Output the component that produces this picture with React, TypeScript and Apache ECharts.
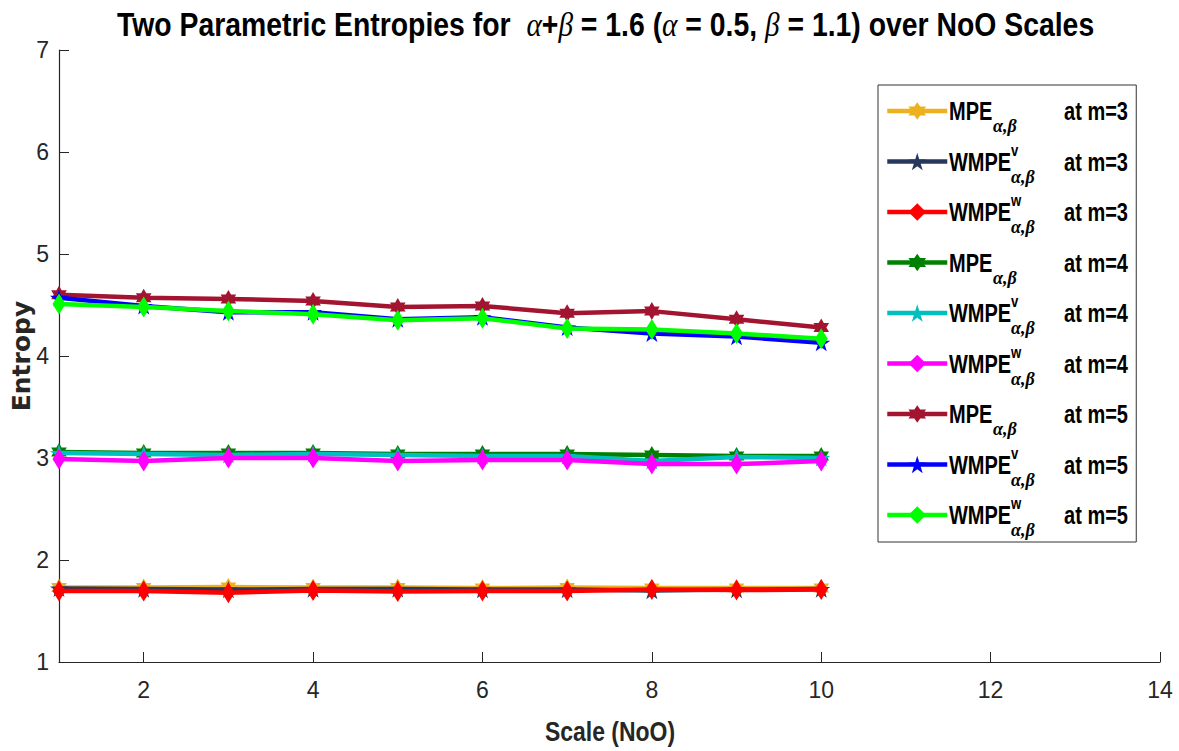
import React, { useEffect, useRef } from "react";
import * as echarts from "echarts";

// ---------- data ----------
const scales = [1, 2, 3, 4, 5, 6, 7, 8, 9, 10];
const xTickValues = [2, 4, 6, 8, 10, 12, 14];

const mpeM3 = [1.73, 1.73, 1.735, 1.73, 1.73, 1.725, 1.73, 1.725, 1.725, 1.725];
const wmpeVM3 = [1.72, 1.715, 1.71, 1.715, 1.715, 1.71, 1.71, 1.7, 1.71, 1.715];
const wmpeWM3 = [1.695, 1.695, 1.68, 1.7, 1.69, 1.695, 1.695, 1.71, 1.705, 1.71];

const mpeM4 = [3.06, 3.05, 3.05, 3.05, 3.04, 3.04, 3.04, 3.03, 3.02, 3.02];
const wmpeVM4 = [3.05, 3.04, 3.03, 3.04, 3.03, 3.02, 3.02, 2.97, 3.01, 3.0];
const wmpeWM4 = [2.99, 2.97, 3.0, 3.0, 2.97, 2.98, 2.98, 2.94, 2.94, 2.97];

const mpeM5 = [4.6, 4.57, 4.56, 4.54, 4.48, 4.49, 4.42, 4.44, 4.36, 4.28];
const wmpeVM5 = [4.57, 4.49, 4.43, 4.43, 4.36, 4.38, 4.28, 4.22, 4.19, 4.13];
const wmpeWM5 = [4.51, 4.48, 4.44, 4.41, 4.35, 4.37, 4.27, 4.26, 4.22, 4.17];

const seriesKeys = [
  "MPE m=3", "WMPEv m=3", "WMPEw m=3",
  "MPE m=4", "WMPEv m=4", "WMPEw m=4",
  "MPE m=5", "WMPEv m=5", "WMPEw m=5",
];
const seriesValues = [mpeM3, wmpeVM3, wmpeWM3, mpeM4, wmpeVM4, wmpeWM4, mpeM5, wmpeVM5, wmpeWM5];
const seriesColors = [
  "#EDB120", "#26395C", "#FF0000",
  "#008000", "#00BFBF", "#FF00FF",
  "#A2142F", "#0000FF", "#00FF00",
];
const seriesKinds = ["MPE", "WMPEv", "WMPEw", "MPE", "WMPEv", "WMPEw", "MPE", "WMPEv", "WMPEw"];
const seriesM = ["3", "3", "3", "4", "4", "4", "5", "5", "5"];

const titleText =
  "{t|Two Parametric Entropies for  }{g|α}{t|+}{g|β}{t| = 1.6 (}{g|α}{t| = 0.5, }{g|β}{t| = 1.1) over NoO Scales}";
const xAxisTitle = "Scale (NoO)";
const yAxisTitle = "Entropy";

// ---------- styling helpers ----------
const SANS = '"Liberation Sans", Arial, sans-serif';
const SERIF = '"Liberation Serif", "Times New Roman", serif';
const NARROW_SCALE = 0.82;

function starPath(points: number, inner: number): string {
  const parts: string[] = [];
  for (let i = 0; i < points * 2; i++) {
    const ang = (-90 + (i * 180) / points) * (Math.PI / 180);
    const r = i % 2 === 0 ? 10 : 10 * inner;
    const x = (r * Math.cos(ang)).toFixed(3);
    const y = (r * Math.sin(ang)).toFixed(3);
    parts.push((i === 0 ? "M" : "L") + x + " " + y);
  }
  return "path://" + parts.join(" ") + " Z";
}
const HEXAGRAM = starPath(6, 0.577);
const PENTAGRAM = starPath(5, 0.382);

function symbolFor(kind: string) {
  if (kind === "MPE") return { symbol: HEXAGRAM, symbolSize: 18 };
  if (kind === "WMPEv") return { symbol: PENTAGRAM, symbolSize: 18 };
  return { symbol: "diamond", symbolSize: [13, 21] };
}

// legend layout (box geometry)
const LEG_LEFT = 878;
const LEG_TOP = 85;
const LEG_PAD_TOP = 3;
const LEG_ITEM_H = 46;
const LEG_GAP = 4.5;
const LEG_TEXT_X = 949;
const LEG_TEXT_RIGHT = 1128;

function legendTexts() {
  const els: any[] = [];
  seriesKeys.forEach((_, i) => {
    const L = LEG_TOP + LEG_PAD_TOP + LEG_ITEM_H / 2 + i * (LEG_ITEM_H + LEG_GAP);
    const kind = seriesKinds[i];
    const main = kind === "MPE" ? "MPE" : "WMPE";
    const mainW = kind === "MPE" ? 44 : 62;
    els.push({
      type: "text", x: LEG_TEXT_X, y: L + 1, scaleX: 0.8, z: 100,
      style: { text: main, fontFamily: SANS, fontWeight: "bold", fontSize: 25, fill: "#000", align: "left", verticalAlign: "middle" },
    });
    if (kind !== "MPE") {
      els.push({
        type: "text", x: LEG_TEXT_X + mainW, y: L - 11, scaleX: NARROW_SCALE, z: 100,
        style: { text: kind === "WMPEv" ? "v" : "w", fontFamily: SANS, fontWeight: "bold", fontSize: 16, fill: "#000", align: "left", verticalAlign: "middle" },
      });
    }
    els.push({
      type: "text", x: LEG_TEXT_X + mainW, y: L + 15, z: 100,
      style: { text: "α,β", fontFamily: SERIF, fontStyle: "italic", fontWeight: "bold", fontSize: 18, fill: "#000", align: "left", verticalAlign: "middle" },
    });
    els.push({
      type: "text", x: LEG_TEXT_RIGHT, y: L + 1, scaleX: 0.8, z: 100,
      style: { text: "at m=" + seriesM[i], fontFamily: SANS, fontWeight: "bold", fontSize: 25, fill: "#000", align: "right", verticalAlign: "middle" },
    });
  });
  return els;
}

export default function App() {
  const ref = useRef<HTMLDivElement>(null);

  useEffect(() => {
    if (!ref.current) return;
    const chart = echarts.init(ref.current, undefined, { renderer: "svg" });

    const series = seriesKeys.map((name, i) => {
      const sym = symbolFor(seriesKinds[i]);
      return {
        name,
        type: "line",
        data: scales.map((x, j) => [x, seriesValues[i][j]]),
        symbol: sym.symbol,
        symbolSize: sym.symbolSize,
        symbolKeepAspect: true,
        showAllSymbol: true,
        lineStyle: { color: seriesColors[i], width: 4.5 },
        itemStyle: { color: seriesColors[i], borderWidth: 0 },
        z: 2 + i,
        emphasis: { disabled: true },
      };
    });

    const axisColor = "#262626";

    chart.setOption({
      animation: false,
      backgroundColor: "#ffffff",
      graphic: [
        {
          type: "text", x: 117, y: 25, scaleX: 0.86,
          style: {
            text: titleText, align: "left", verticalAlign: "middle",
            rich: {
              t: { fontFamily: SANS, fontWeight: "bold", fontSize: 33, fill: "#000" },
              g: { fontFamily: SERIF, fontStyle: "italic", fontSize: 34, fill: "#000" },
            },
          },
        },
        {
          type: "text", x: 610, y: 731, scaleX: NARROW_SCALE,
          style: { text: xAxisTitle, fontFamily: SANS, fontWeight: "bold", fontSize: 28, fill: axisColor, align: "center", verticalAlign: "middle" },
        },
        ...legendTexts(),
      ],
      legend: {
        orient: "vertical",
        left: LEG_LEFT,
        top: LEG_TOP,
        padding: [LEG_PAD_TOP, 5, 4, 7],
        itemGap: LEG_GAP,
        itemWidth: 60,
        itemHeight: 22,
        borderColor: "#333333",
        borderWidth: 1,
        backgroundColor: "#ffffff",
        selectedMode: false,
        data: seriesKeys,
        formatter: () => "\u00a0",
        lineStyle: { width: 4.5 },
        textStyle: { width: 179, height: LEG_ITEM_H, lineHeight: LEG_ITEM_H, fontSize: 12 },
      },
      grid: { left: 59, right: 19, top: 50, bottom: 89, containLabel: false, outerBoundsMode: "none" },
      xAxis: {
        type: "value",
        min: 1,
        max: 14,
        axisLine: { show: true, onZero: false, lineStyle: { color: axisColor, width: 1.2 } },
        axisTick: { show: true, inside: true, length: 10, customValues: xTickValues, lineStyle: { color: axisColor } },
        axisLabel: {
          customValues: xTickValues,
          margin: 16,
          fontFamily: SANS,
          fontSize: 23,
          color: axisColor,
        },
        splitLine: { show: false },
      },
      yAxis: {
        type: "value",
        min: 1,
        max: 7,
        interval: 1,
        name: yAxisTitle,
        nameLocation: "middle",
        nameGap: 25,
        nameMoveOverlap: false,
        nameRotate: 90,
        nameTextStyle: { fontFamily: '"DejaVu Sans", sans-serif', fontWeight: "bold", fontSize: 25, color: axisColor },
        axisLine: { show: true, lineStyle: { color: axisColor, width: 1.2 } },
        axisTick: { show: true, inside: true, length: 10, lineStyle: { color: axisColor } },
        axisLabel: { margin: 10, fontFamily: SANS, fontSize: 23, color: axisColor },
        splitLine: { show: false },
      },
      series,
    });

    return () => chart.dispose();
  }, []);

  return (
    <div
      ref={ref}
      style={{ position: "fixed", left: 0, top: 0, width: 1179, height: 751, background: "#fff" }}
    />
  );
}
